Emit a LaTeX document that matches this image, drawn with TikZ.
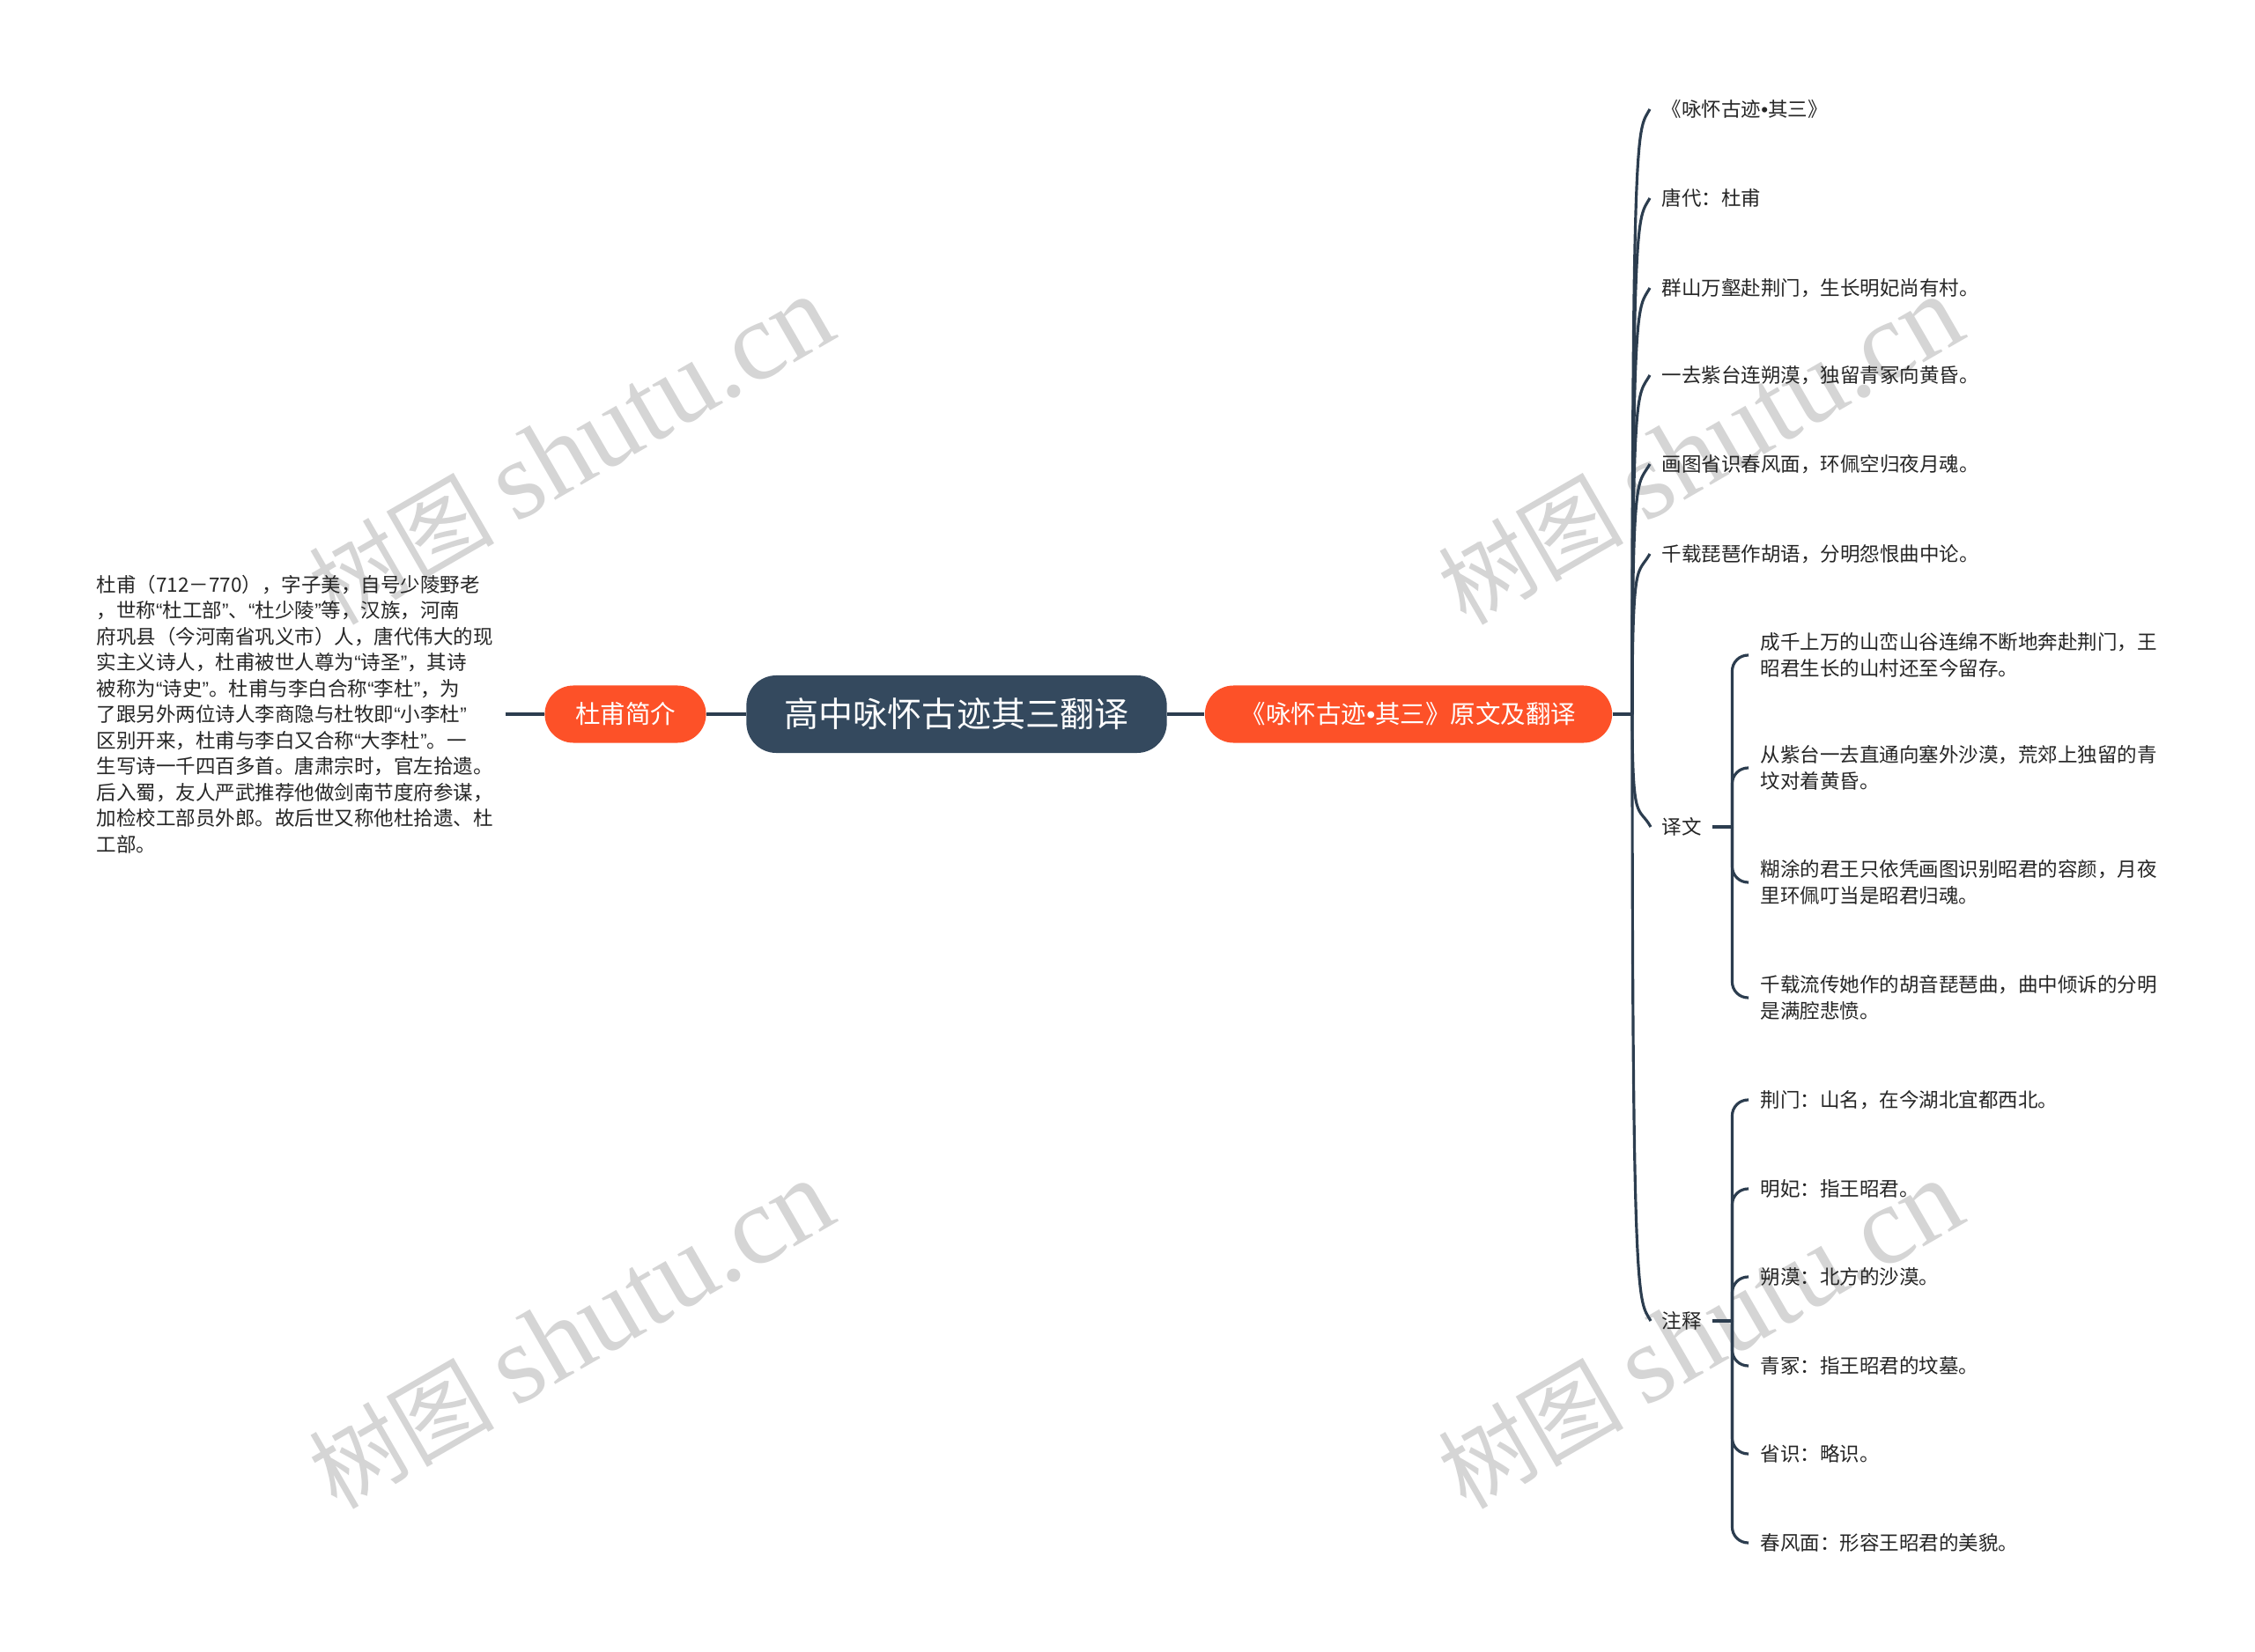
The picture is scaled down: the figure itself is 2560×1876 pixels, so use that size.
\documentclass[tikz,border=0pt]{standalone}
\usepackage{fontspec}
\setmainfont{Noto Sans CJK SC}
\newfontfamily\markSerif{Liberation Serif}
\newfontfamily\latinSans{Liberation Sans}
\newcommand{\oq}{{\latinSans “}}
\newcommand{\cq}{{\latinSans ”}}
\newcommand{\dotsep}{{\latinSans •}}
\usetikzlibrary{calc}
\definecolor{mainSlate}{HTML}{34495E}
\definecolor{accentOrange}{HTML}{FD5128}
\definecolor{lineDark}{HTML}{2C3D4F}
\definecolor{markGray}{HTML}{D5D5D5}
\begin{document}
\begin{tikzpicture}[x=0.01cm,y=-0.01cm,
  leaf/.style={anchor=west,inner xsep=0.13cm,inner ysep=0pt,align=left,text=black!85,font=\fontsize{6.4pt}{8.4pt}\selectfont},
  pill/.style={fill=accentOrange,text=white,rounded corners=0.325cm,minimum height=0.65cm,font=\fontsize{8.1pt}{10pt}\selectfont},
  link/.style={lineDark,line width=0.9pt}]
\useasboundingbox[fill=white] (0,0) rectangle (2560,1876);
% watermark
\foreach \x/\y in {648/512,648/1516,1930/512,1930/1516}
  \node[markGray,rotate=30] at (\x,\y) {\fontsize{30pt}{30pt}\selectfont 树图\ \markSerif\fontsize{36pt}{36pt}\selectfont shutu.cn};

\node[fill=mainSlate,text=white,rounded corners=0.34cm,minimum width=4.77cm,minimum height=0.88cm,font=\fontsize{11.1pt}{13pt}\selectfont] (center) at (1086,811) {高中咏怀古迹其三翻译};
\node[pill,minimum width=1.83cm] (dufu) at (710,811) {杜甫简介};
\node[pill,minimum width=4.62cm] (yuanwen) at (1599,811) {《咏怀古迹\dotsep 其三》原文及翻译};
\node[leaf] (intro) at (96,811) {杜甫（712－770），字子美，自号少陵野老\\
，世称\oq 杜工部\cq 、\oq 杜少陵\cq 等，汉族，河南\\
府巩县（今河南省巩义市）人，唐代伟大的现\\
实主义诗人，杜甫被世人尊为\oq 诗圣\cq ，其诗\\
被称为\oq 诗史\cq 。杜甫与李白合称\oq 李杜\cq ，为\\
了跟另外两位诗人李商隐与杜牧即\oq 小李杜\cq\\
区别开来，杜甫与李白又合称\oq 大李杜\cq 。一\\
生写诗一千四百多首。唐肃宗时，官左拾遗。\\
后入蜀，友人严武推荐他做剑南节度府参谋，\\
加检校工部员外郎。故后世又称他杜拾遗、杜\\
工部。};
\coordinate (root) at (1853,811);

\draw[link] (intro.east) -- (dufu.west);
\draw[link] (dufu) -- (center);
\draw[link] (center) -- (yuanwen);
\draw[link] (yuanwen.east) -- (root);

% poem lines
\foreach \i/\y/\t in {1/124/《咏怀古迹\dotsep 其三》,2/225/唐代：杜甫,3/327/群山万壑赴荆门，生长明妃尚有村。,
  4/426/一去紫台连朔漠，独留青冢向黄昏。,5/527/画图省识春风面，环佩空归夜月魂。,6/629/千载琵琶作胡语，分明怨恨曲中论。}
{
  \node[leaf] (s\i) at (1873,\y) {\t};
  \draw[link] (root) .. controls (root |- s\i.west) and +(-14,25) .. (s\i.west);
}

\node[leaf,inner xsep=0.12cm] (yiwen) at (1874,939) {译文};
\node[leaf,inner xsep=0.12cm] (zhushi) at (1874,1500) {注释};
\draw[link] (root) .. controls (root |- yiwen.west) and +(-14,-25) .. (yiwen.west);
\draw[link] (root) .. controls (root |- zhushi.west) and +(-14,-25) .. (zhushi.west);

% translation
\node[leaf] (y1) at (1985,744) {成千上万的山峦山谷连绵不断地奔赴荆门，王\\昭君生长的山村还至今留存。};
\node[leaf] (y2) at (1985,872) {从紫台一去直通向塞外沙漠，荒郊上独留的青\\坟对着黄昏。};
\node[leaf] (y3) at (1985,1002) {糊涂的君王只依凭画图识别昭君的容颜，月夜\\里环佩叮当是昭君归魂。};
\node[leaf] (y4) at (1985,1133) {千载流传她作的胡音琵琶曲，曲中倾诉的分明\\是满腔悲愤。};
\coordinate (yj) at ([xshift=0.22cm]yiwen.east);
\draw[link] (yiwen.east) -- (yj);
\foreach \i in {1,...,4}
  \draw[link,rounded corners=0.18cm] (yj) |- (y\i.west);

% notes
\foreach \i/\y/\t in {1/1249/荆门：山名，在今湖北宜都西北。,2/1350/明妃：指王昭君。,3/1450/朔漠：北方的沙漠。,
  4/1551/青冢：指王昭君的坟墓。,5/1651/省识：略识。,6/1752/春风面：形容王昭君的美貌。}
  \node[leaf] (z\i) at (1985,\y) {\t};
\coordinate (zj) at ([xshift=0.22cm]zhushi.east);
\draw[link] (zhushi.east) -- (zj);
\foreach \i in {1,...,6}
  \draw[link,rounded corners=0.18cm] (zj) |- (z\i.west);
\end{tikzpicture}
\end{document}
